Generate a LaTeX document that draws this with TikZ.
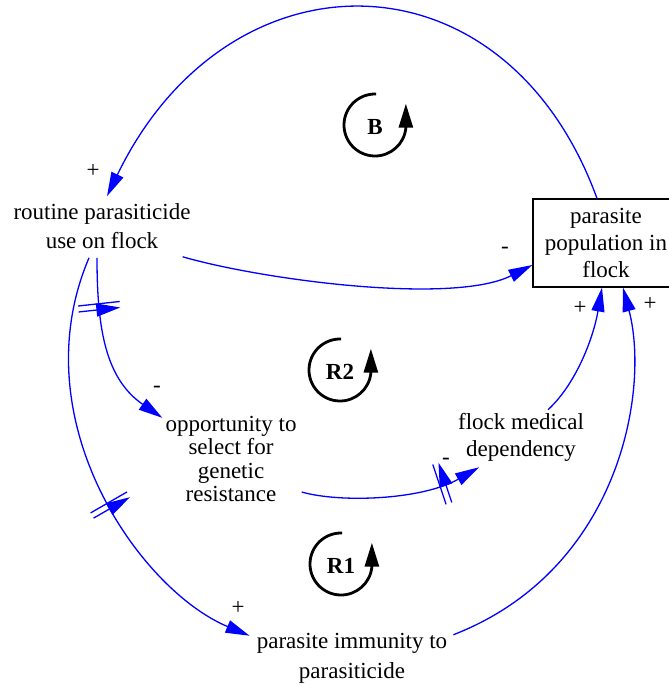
\documentclass[tikz,border=0pt]{standalone}
\usepackage{fontspec}
\setmainfont{Liberation Serif}
\newfontfamily\cldfont{Liberation Serif}
\usetikzlibrary{arrows.meta, decorations.markings}
\definecolor{cldBlue}{RGB}{0,0,255}
\definecolor{cldInk}{RGB}{0,0,0}

\begin{document}
\begin{tikzpicture}[
    x=1pt, y=-1pt,
    varnode/.style={align=center, inner sep=3pt, text=cldInk, font=\cldfont\fontsize{23}{29}\selectfont},
    stocknode/.style={draw=cldInk, line width=1.2pt, rectangle, align=center, inner sep=2pt, text=cldInk, minimum width=146pt, minimum height=88pt, font=\cldfont\fontsize{23}{27}\selectfont},
    polar/.style={inner sep=0pt, text=cldInk, font=\cldfont\fontsize{23}{23}\selectfont},
    looplab/.style={inner sep=0pt, text=cldInk, font=\cldfont\fontsize{23}{23}\selectfont\bfseries},
    link/.style={-{Triangle[length=24pt, width=13pt]}, line width=1.3pt, draw=cldBlue},
    loopmark/.style={-{Triangle[length=24pt, width=14pt]}, line width=2.8pt, draw=cldInk},
    delaymark/.style={postaction={decorate, decoration={markings, mark=at position #1 with {\draw[cldBlue, line width=1.3pt] (-3pt,-21pt) -- (-3pt,21pt) (3pt,-21pt) -- (3pt,21pt);}}}}
]
\useasboundingbox (0,0) rectangle (669,686);

% Variable Nodes
\node (use_flock) [varnode] at (102,226) {routine parasiticide\\use on flock};
\node (pop_flock) [stocknode] at (606,243) {parasite\\population in\\flock};
\node (opp_sel) [varnode, font=\cldfont\fontsize{23}{23.5}\selectfont] at (231,459) {opportunity to\\select for\\genetic\\resistance};
\node (med_dep) [varnode, font=\cldfont\fontsize{23}{27}\selectfont] at (521,437) {flock medical\\dependency};
\node (immunity) [varnode, font=\cldfont\fontsize{23}{30}\selectfont] at (352,658) {parasite immunity to\\parasiticide};

% Causal Links
\draw [link] ([xshift=-9pt]pop_flock.north) .. controls (505,-54) and (228,-54) .. ([xshift=5pt,yshift=4pt]use_flock.north);
\draw [link] ([xshift=-11pt,yshift=-5pt]use_flock.south east) .. controls (263,280) and (453,305) .. ([yshift=-22pt]pop_flock.west);
\draw [link, delaymark=0.27] ([xshift=-5pt,yshift=-6pt]use_flock.south) .. controls (97,330) and (106,379) .. ([yshift=-5pt]opp_sel.north west);
\draw [link, delaymark=0.57] ([xshift=-13pt,yshift=-6pt]use_flock.south) .. controls (20,420) and (140,590) .. ([xshift=-4pt,yshift=-6pt]immunity.north west);
\draw [link, delaymark=0.78] ([xshift=2pt,yshift=-33pt]opp_sel.east) .. controls (340,503) and (422,500) .. ([xshift=-42pt,yshift=-3pt]med_dep.south);
\draw [link] ([xshift=27pt]med_dep.north) .. controls (575,385) and (593,340) .. ([xshift=-4pt]pop_flock.south);
\draw [link] ([xshift=3pt,yshift=-5pt]immunity.north east) .. controls (620,570) and (650,390) .. ([xshift=17pt]pop_flock.south);

% Link Polarities
\node (pol_use) [polar] at (93,171) {+};
\node (pol_pop) [polar] at (505,250) {-};
\node (pol_opp) [polar] at (157,389) {-};
\node (pol_dep) [polar] at (446,461) {-};
\node (pol_pop_dep) [polar] at (580,308) {+};
\node (pol_pop_imm) [polar] at (650,304) {+};
\node (pol_imm) [polar] at (238,608) {+};

% Loop Markers
\foreach \lx/\ly/\lname in {375/125/B, 340/370/R2, 341/564/R1} {
    \node (loop_\lname) [looplab] at (\lx,\ly+2) {\lname};
    \draw [loopmark] (\lx,\ly) ++(272:31) arc[start angle=272, end angle=5, radius=31] -- ++(0,-24);
}

\end{tikzpicture}
\end{document}
